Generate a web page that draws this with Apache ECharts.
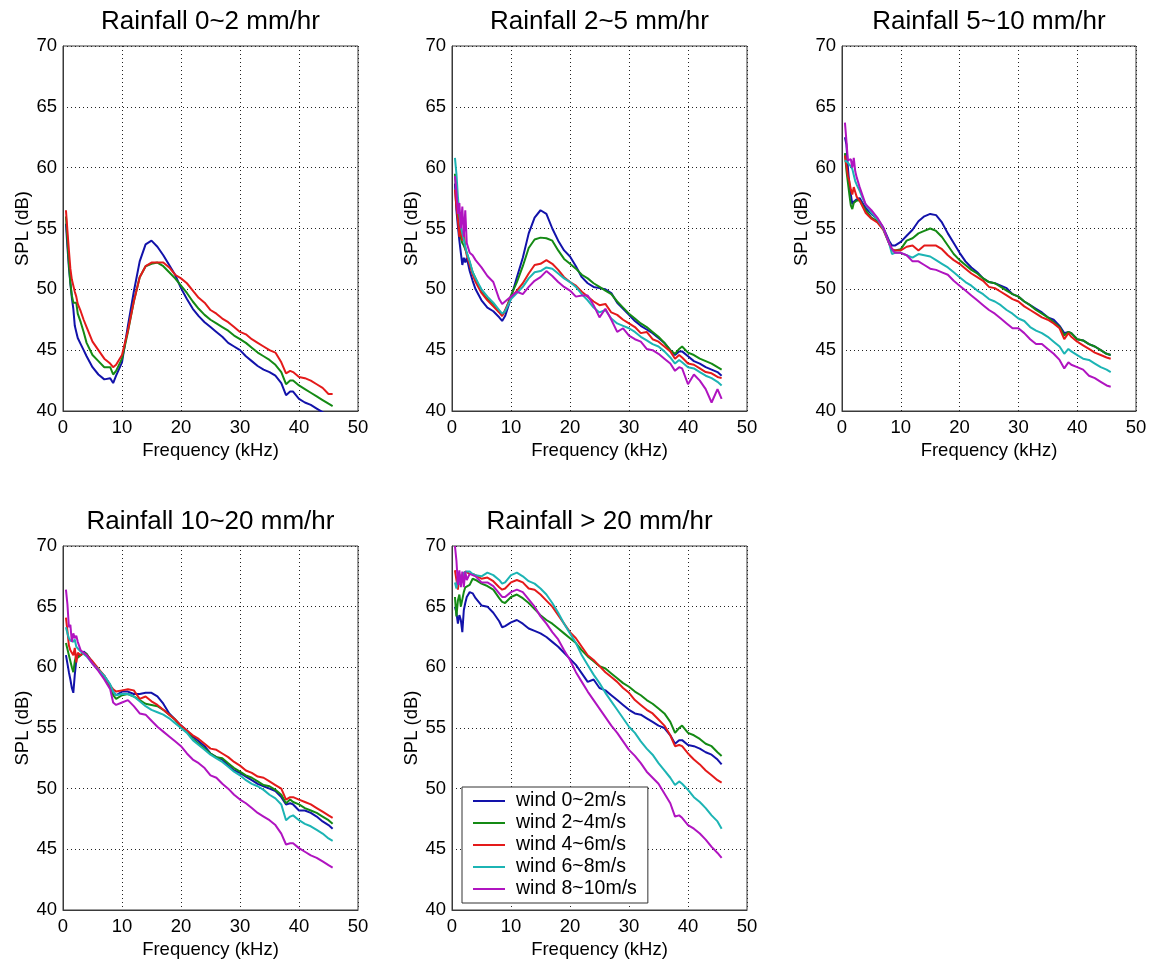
<!DOCTYPE html>
<html>
<head>
<meta charset="utf-8">
<script src="https://cdn.jsdelivr.net/npm/echarts@6/dist/echarts.min.js"></script>
<style>
html,body{margin:0;padding:0;background:#fff;}
#chart{width:1152px;height:964px;}
</style>
</head>
<body>
<div id="chart"></div>
<script>
// Frequency samples (kHz), shared by all curves
const FREQ = [0.5, 0.75, 1, 1.25, 1.5, 1.75, 2, 2.25, 2.5,
  3, 3.5, 4, 5, 6, 7, 8, 8.5, 9,
  10, 11, 12, 13, 14, 15, 16, 17, 18, 19,
  20, 21, 22, 23, 24, 25, 26, 27, 28, 29,
  30, 31, 32, 33, 34, 35, 36, 37, 37.8, 38.5,
  39, 40, 41, 42, 43, 44, 45, 45.7];

const TITLES = ['Rainfall 0~2 mm/hr', 'Rainfall 2~5 mm/hr', 'Rainfall 5~10 mm/hr', 'Rainfall 10~20 mm/hr', 'Rainfall > 20 mm/hr'];
const WIND = ['wind 0~2m/s', 'wind 2~4m/s', 'wind 4~6m/s', 'wind 6~8m/s', 'wind 8~10m/s'];
const X_TICKS = [0, 10, 20, 30, 40, 50];
const Y_TICKS = [40, 45, 50, 55, 60, 65, 70];

// Rainfall 0~2 mm/hr
const r1_w1 = [55.4, 53.5, 51.8, 50.5, 49.3, 48.4, 47.0, 46.5, 46.0,
  45.5, 45.0, 44.5, 43.6, 43.0, 42.6, 42.7, 42.3, 42.9,
  44.0, 47.0, 49.8, 52.3, 53.7, 54.0, 53.5, 52.8, 52.0, 51.2,
  50.1, 49.2, 48.4, 47.8, 47.3, 46.9, 46.5, 46.1, 45.6, 45.3,
  45.0, 44.5, 44.1, 43.7, 43.4, 43.2, 42.9, 42.3, 41.3, 41.6,
  41.6, 41.0, 40.7, 40.5, 40.2, 39.9, 39.6, 39.4];
const r1_w2 = [56.0, 54.0, 52.1, 50.5, 49.5, 48.9, 48.9, 48.9, 48.0,
  47.3, 46.5, 45.6, 44.6, 44.1, 43.6, 43.6, 43.0, 43.3,
  44.3, 46.5, 49.0, 51.0, 51.9, 52.1, 52.2, 51.9, 51.4, 50.9,
  50.3, 49.7, 49.0, 48.4, 47.9, 47.5, 47.2, 46.9, 46.6, 46.2,
  45.9, 45.6, 45.2, 44.8, 44.5, 44.2, 43.8, 43.2, 42.2, 42.5,
  42.5, 42.1, 41.8, 41.5, 41.2, 40.9, 40.6, 40.4];
const r1_w3 = [56.5, 54.8, 53.2, 51.7, 50.8, 50.9, 49.8, 49.4, 48.8,
  48.2, 47.5, 46.9, 45.7, 45.0, 44.3, 43.9, 43.6, 43.8,
  44.6, 46.6, 49.0, 51.0, 51.9, 52.2, 52.2, 52.2, 51.8, 51.2,
  50.9, 50.5, 49.9, 49.3, 48.9, 48.3, 48.0, 47.6, 47.3, 46.9,
  46.5, 46.3, 45.9, 45.6, 45.3, 45.0, 44.8, 44.0, 43.1, 43.3,
  43.2, 42.8, 42.7, 42.5, 42.2, 41.9, 41.4, 41.4];

// Rainfall 2~5 mm/hr
const r2_w1 = [58.7, 56.5, 55.2, 54.0, 53.0, 52.0, 52.6, 52.2, 52.6,
  51.5, 50.7, 50.0, 49.1, 48.5, 48.2, 47.7, 47.4, 47.8,
  49.3, 51.0, 52.6, 54.6, 55.9, 56.5, 56.2, 55.0, 54.0, 53.2,
  52.7, 51.9, 51.0, 50.5, 50.2, 50.1, 50.0, 49.7, 48.9, 48.4,
  47.9, 47.4, 47.0, 46.7, 46.4, 46.0, 45.6, 45.0, 44.6, 44.9,
  44.9, 44.5, 44.1, 43.9, 43.6, 43.4, 43.2, 42.9];
const r2_w2 = [59.5, 57.8, 56.2, 55.0, 54.2, 53.8, 53.6, 53.5, 53.0,
  52.2, 51.4, 50.9, 49.8, 49.2, 48.8, 48.2, 47.9, 48.2,
  49.5, 50.6, 51.9, 53.4, 54.1, 54.25, 54.2, 54.0, 53.2, 52.5,
  52.1, 51.7, 51.2, 50.9, 50.5, 50.2, 49.9, 49.6, 49.0, 48.5,
  48.0, 47.6, 47.2, 46.9, 46.5, 46.1, 45.6, 45.0, 44.7, 45.1,
  45.3, 44.8, 44.6, 44.3, 44.1, 43.9, 43.6, 43.4];
const r2_w3 = [58.2, 56.8, 55.7, 54.3, 55.2, 54.0, 54.8, 53.4, 52.8,
  52.0, 51.2, 50.6, 49.7, 49.1, 48.6, 48.1, 47.8, 48.3,
  49.3, 49.9, 50.5, 51.3, 52.0, 52.1, 52.4, 52.1, 51.6, 51.0,
  50.6, 50.3, 49.8, 49.4, 49.0, 48.7, 48.8, 48.1, 47.9, 47.5,
  47.2, 46.9, 46.4, 46.5, 45.9, 45.7, 45.3, 44.9, 44.3, 44.6,
  44.4, 43.9, 43.8, 43.5, 43.2, 43.1, 42.8, 42.7];
const r2_w4 = [60.8, 59.5, 57.6, 56.2, 55.2, 54.6, 54.1, 53.5, 53.0,
  52.3, 51.4, 50.9, 50.0, 49.4, 48.9, 48.3, 48.0, 48.2,
  49.2, 49.7, 50.2, 50.9, 51.4, 51.5, 51.8, 51.7, 51.3, 50.9,
  50.6, 50.2, 49.6, 49.1, 48.5, 48.1, 48.3, 47.6, 47.2, 47.0,
  46.8, 46.5, 46.1, 45.8, 45.5, 45.3, 44.9, 44.4, 43.9, 44.2,
  44.0, 43.6, 43.5, 43.2, 42.9, 42.7, 42.4, 42.1];
const r2_w5 = [59.3, 58.0, 56.2, 57.1, 55.0, 56.8, 54.3, 56.5, 53.8,
  53.0, 52.8, 52.4, 51.8, 51.1, 50.6, 49.2, 48.8, 49.0,
  49.4, 49.8, 49.6, 50.2, 50.7, 51.0, 51.5, 51.1, 50.6, 50.2,
  49.9, 49.4, 49.5, 49.5, 48.7, 47.7, 48.4, 47.5, 46.5, 46.8,
  46.2, 45.9, 45.7, 45.1, 45.0, 44.7, 44.3, 43.9, 43.3, 43.6,
  43.5, 42.2, 43.0, 42.5, 41.8, 40.7, 41.8, 41.0];

// Rainfall 5~10 mm/hr
const r3_w1 = [62.5, 61.9, 60.0, 58.6, 57.8, 57.0, 57.2, 57.3, 57.4,
  57.5, 57.1, 56.7, 56.2, 55.8, 55.1, 54.0, 53.6, 53.6,
  53.9, 54.4, 54.9, 55.6, 56.0, 56.2, 56.1, 55.5, 54.6, 53.8,
  53.0, 52.3, 51.8, 51.4, 50.9, 50.6, 50.5, 50.3, 50.1, 49.6,
  49.4, 49.0, 48.7, 48.4, 48.1, 47.7, 47.5, 47.0, 46.4, 46.5,
  46.4, 45.9, 45.8, 45.5, 45.3, 45.0, 44.7, 44.6];
const r3_w2 = [61.2, 59.8, 58.8, 57.8, 56.9, 56.6, 57.1, 57.2, 57.3,
  57.3, 56.9, 56.5, 55.9, 55.6, 55.0, 53.8, 53.2, 53.2,
  53.3, 54.0, 54.2, 54.6, 54.8, 55.0, 54.8, 54.3, 53.6, 52.9,
  52.4, 52.0, 51.6, 51.3, 50.9, 50.6, 50.5, 50.2, 49.9, 49.6,
  49.4, 49.0, 48.7, 48.3, 48.0, 47.7, 47.3, 46.9, 46.2, 46.5,
  46.4, 45.9, 45.8, 45.5, 45.3, 45.0, 44.7, 44.6];
const r3_w3 = [61.0, 60.2, 59.3, 58.9, 58.2, 57.8, 58.4, 58.0, 57.6,
  57.3, 56.8, 56.3, 55.8, 55.5, 54.9, 53.8, 53.3, 53.2,
  53.2, 53.5, 53.6, 53.2, 53.6, 53.6, 53.6, 53.3, 52.8, 52.4,
  52.1, 51.7, 51.3, 51.0, 50.7, 50.2, 50.1, 49.8, 49.5, 49.2,
  49.0, 48.6, 48.3, 48.0, 47.7, 47.5, 47.2, 46.8, 45.9, 46.4,
  46.1, 45.7, 45.4, 45.1, 44.8, 44.6, 44.4, 44.3];
const r3_w4 = [60.6, 60.5, 60.4, 60.3, 60.1, 59.9, 59.4, 58.9, 58.6,
  58.1, 57.5, 57.0, 56.3, 55.8, 55.0, 53.8, 52.9, 53.0,
  53.0, 52.8, 52.6, 52.9, 52.8, 52.7, 52.4, 52.1, 51.8, 51.4,
  51.0, 50.6, 50.3, 49.9, 49.6, 49.2, 49.0, 48.7, 48.3, 48.0,
  47.6, 47.4, 46.9, 46.6, 46.4, 46.1, 45.7, 45.3, 44.7, 45.1,
  44.9, 44.6, 44.3, 44.2, 43.9, 43.6, 43.4, 43.2];
const r3_w5 = [63.7, 62.2, 60.6, 60.7, 60.7, 60.0, 60.8, 59.7, 59.2,
  58.4, 57.7, 57.0, 56.5, 55.9, 55.1, 53.8, 53.3, 53.0,
  53.0, 52.8, 52.3, 52.3, 52.0, 51.7, 51.6, 51.4, 51.2, 50.7,
  50.3, 49.9, 49.5, 49.1, 48.7, 48.3, 48.0, 47.6, 47.2, 46.8,
  46.8, 46.4, 45.9, 45.5, 45.5, 45.1, 44.7, 44.2, 43.5, 44.0,
  43.8, 43.6, 43.4, 42.9, 42.7, 42.4, 42.1, 42.0];

// Rainfall 10~20 mm/hr
const r4_w1 = [61.0, 60.3, 59.6, 59.0, 58.3, 57.9, 59.4, 60.6, 61.0,
  61.0, 61.3, 61.1, 60.4, 59.8, 59.3, 58.5, 58.0, 57.7,
  58.0, 58.0, 57.8, 57.8, 57.9, 57.9, 57.6, 57.0, 56.2, 55.7,
  55.2, 54.8, 54.3, 53.9, 53.5, 52.9, 52.6, 52.4, 51.9, 51.5,
  51.3, 51.0, 50.7, 50.4, 50.2, 50.0, 49.8, 49.3, 48.7, 48.8,
  48.7, 48.2, 48.2, 48.0, 47.7, 47.3, 47.0, 46.7];
const r4_w2 = [62.0, 61.5, 61.0, 60.5, 60.0, 59.6, 60.5, 61.0, 60.8,
  61.0, 61.2, 61.1, 60.4, 59.8, 59.2, 58.4, 57.7, 57.4,
  57.7, 57.8, 57.6, 57.3, 57.0, 56.9, 56.8, 56.5, 56.1, 55.7,
  55.1, 54.7, 54.1, 53.7, 53.3, 52.9, 52.6, 52.5, 52.1, 51.7,
  51.4, 51.1, 50.9, 50.6, 50.3, 50.2, 49.9, 49.5, 48.8, 49.1,
  48.9, 48.7, 48.4, 48.2, 48.0, 47.7, 47.4, 47.1];
const r4_w3 = [64.1, 63.0, 61.8, 61.4, 61.2, 61.0, 61.6, 60.4, 61.2,
  61.0, 61.2, 61.0, 60.5, 59.9, 59.3, 58.5, 58.2, 58.0,
  58.1, 58.2, 58.1, 57.4, 57.6, 57.2, 56.9, 56.5, 56.1, 55.7,
  55.2, 54.8, 54.4, 54.1, 53.7, 53.3, 53.2, 52.9, 52.6, 52.2,
  51.9, 51.5, 51.3, 51.0, 50.9, 50.6, 50.3, 50.0, 49.1, 49.3,
  49.3, 49.1, 48.9, 48.7, 48.4, 48.1, 47.8, 47.6];
const r4_w4 = [63.3, 62.8, 62.4, 62.2, 62.1, 62.1, 62.3, 61.7, 61.6,
  61.3, 61.1, 60.9, 60.3, 59.8, 59.3, 58.6, 58.0, 57.7,
  57.8, 57.8, 57.6, 57.2, 56.8, 56.5, 56.3, 56.1, 55.8, 55.4,
  55.0, 54.6, 54.0, 53.6, 53.2, 52.8, 52.5, 52.2, 51.8, 51.4,
  51.1, 50.7, 50.4, 50.2, 49.9, 49.5, 49.2, 48.7, 47.4, 47.7,
  47.8, 47.4, 47.1, 46.9, 46.6, 46.3, 45.9, 45.7];
const r4_w5 = [66.4, 65.2, 63.3, 63.5, 62.1, 62.8, 62.4, 62.6, 62.1,
  61.4, 61.2, 61.0, 60.3, 59.7, 59.0, 58.2, 57.1, 56.9,
  57.1, 57.3, 56.8, 56.2, 56.1, 55.6, 55.1, 54.7, 54.3, 53.9,
  53.5, 52.9, 52.4, 52.1, 51.7, 51.1, 50.9, 50.4, 50.0, 49.5,
  49.1, 48.8, 48.4, 48.0, 47.7, 47.4, 47.0, 46.3, 45.4, 45.5,
  45.5, 45.1, 44.8, 44.5, 44.3, 44.0, 43.7, 43.5];

// Rainfall > 20 mm/hr
const r5_w1 = [65.0, 64.5, 63.6, 64.3, 63.9, 62.9, 64.7, 65.3, 65.8,
  66.2, 66.1, 65.7, 65.1, 65.0, 64.5, 63.8, 63.3, 63.4,
  63.7, 63.9, 63.6, 63.2, 63.0, 62.8, 62.5, 62.1, 61.7, 61.2,
  60.7, 60.2, 59.5, 58.8, 59.0, 58.3, 58.1, 57.7, 57.3, 56.9,
  56.5, 56.2, 56.1, 55.8, 55.5, 55.2, 55.0, 54.4, 53.7, 54.0,
  54.0, 53.6, 53.5, 53.3, 53.0, 52.8, 52.4, 52.0];
const r5_w2 = [65.8, 64.2, 65.5, 66.0, 65.0, 65.0, 66.2, 66.6, 66.7,
  66.8, 67.3, 67.2, 66.9, 66.7, 66.4, 65.7, 65.4, 65.3,
  65.8, 66.0, 65.7, 65.3, 64.8, 64.3, 63.9, 63.6, 63.2, 62.8,
  62.4, 62.0, 61.4, 60.9, 60.5, 60.1, 59.9, 59.5, 59.1, 58.7,
  58.4, 58.0, 57.7, 57.3, 57.0, 56.6, 56.2, 55.5, 54.6, 55.0,
  55.2, 54.6, 54.4, 54.1, 53.7, 53.5, 53.0, 52.7];
const r5_w3 = [68.0, 67.2, 66.4, 67.7, 66.9, 67.2, 67.5, 67.9, 67.8,
  67.7, 67.7, 67.6, 67.3, 67.4, 67.1, 66.6, 66.4, 66.5,
  67.0, 67.2, 67.0, 66.5, 66.4, 66.0, 65.5, 65.0, 64.3, 63.6,
  62.9, 62.4, 61.7, 61.0, 60.6, 60.1, 59.6, 59.2, 58.8, 58.3,
  57.9, 57.3, 56.9, 56.5, 56.2, 55.7, 55.2, 54.4, 53.5, 53.6,
  53.5, 52.9, 52.4, 52.0, 51.5, 51.1, 50.7, 50.5];
const r5_w4 = [67.0, 66.5, 67.3, 66.8, 67.6, 67.2, 67.8, 67.9, 67.9,
  67.9, 67.7, 67.6, 67.5, 67.8, 67.6, 67.2, 66.9, 67.0,
  67.6, 67.8, 67.5, 67.1, 66.9, 66.5, 66.0, 65.3, 64.5, 63.6,
  62.8, 62.0, 61.0, 60.2, 59.4, 58.7, 57.9, 57.2, 56.5, 55.8,
  55.1, 54.6, 53.9, 53.3, 52.8, 52.1, 51.5, 50.9, 50.3, 50.6,
  50.4, 49.9, 49.3, 48.9, 48.4, 47.8, 47.3, 46.7];
const r5_w5 = [70.0, 68.8, 66.8, 68.0, 66.6, 67.9, 66.6, 67.9, 67.2,
  67.7, 67.6, 67.5, 67.0, 67.0, 66.7, 66.1, 65.8, 65.8,
  66.2, 66.4, 66.2, 65.6, 65.0, 64.2, 63.6, 62.9, 62.3, 61.4,
  60.6, 59.6, 58.8, 58.0, 57.3, 56.6, 55.9, 55.2, 54.6, 53.9,
  53.2, 52.7, 52.1, 51.4, 50.9, 50.4, 49.6, 48.8, 47.7, 47.8,
  47.6, 47.0, 46.7, 46.3, 45.8, 45.2, 44.7, 44.3];

const PANELS = [
  [r1_w1, r1_w2, r1_w3],
  [r2_w1, r2_w2, r2_w3, r2_w4, r2_w5],
  [r3_w1, r3_w2, r3_w3, r3_w4, r3_w5],
  [r4_w1, r4_w2, r4_w3, r4_w4, r4_w5],
  [r5_w1, r5_w2, r5_w3, r5_w4, r5_w5]
];

const COLORS = ['#1212aa', '#148a14', '#e41a1a', '#1cb4b4', '#b014c0'];
const FONT = '"Liberation Sans", Arial, Helvetica, sans-serif';

const GRIDS = [
  {left: 63, top: 46, width: 295, height: 365},
  {left: 452, top: 46, width: 295, height: 365},
  {left: 842, top: 46, width: 294, height: 365},
  {left: 63, top: 546, width: 295, height: 364},
  {left: 452, top: 546, width: 295, height: 364}
];
const TITLE_Y = [22, 22, 22, 522, 522];

const chart = echarts.init(document.getElementById('chart'), null, {renderer: 'canvas'});

const grid = GRIDS.map(g => ({
  left: g.left, top: g.top, width: g.width, height: g.height,
  show: true, borderColor: '#3a3a3a', borderWidth: 1, backgroundColor: '#fff'
}));

const splitLine = {show: true, lineStyle: {color: '#222', width: 1, type: [1, 3]}};

const xAxis = GRIDS.map((g, i) => ({
  type: 'value', gridIndex: i, min: X_TICKS[0], max: X_TICKS[X_TICKS.length - 1], interval: 10,
  name: 'Frequency (kHz)', nameLocation: 'middle', nameGap: 30,
  nameTextStyle: {fontSize: 18.5, color: '#000', fontFamily: FONT},
  axisLine: {show: true, lineStyle: {color: '#3a3a3a', width: 1}},
  axisTick: {show: false},
  axisLabel: {fontSize: 18.5, color: '#000', fontFamily: FONT, margin: 7},
  splitLine: splitLine
}));

const yAxis = GRIDS.map((g, i) => ({
  type: 'value', gridIndex: i, min: Y_TICKS[0], max: Y_TICKS[Y_TICKS.length - 1], interval: 5,
  name: 'SPL (dB)', nameLocation: 'middle', nameGap: 30,
  nameTextStyle: {fontSize: 18.5, color: '#000', fontFamily: FONT},
  axisLine: {show: true, lineStyle: {color: '#3a3a3a', width: 1}},
  axisTick: {show: false},
  axisLabel: {fontSize: 18.5, color: '#000', fontFamily: FONT, margin: 6},
  splitLine: splitLine
}));

const title = TITLES.map((t, i) => ({
  text: t,
  left: GRIDS[i].left + GRIDS[i].width / 2,
  top: TITLE_Y[i] - 13,
  textAlign: 'center',
  padding: 0,
  textStyle: {fontSize: 26, fontWeight: 'normal', color: '#000', fontFamily: FONT, lineHeight: 26}
}));

const series = [];
PANELS.forEach((curves, p) => {
  curves.forEach((vals, k) => {
    series.push({
      type: 'line', name: WIND[k], xAxisIndex: p, yAxisIndex: p,
      data: FREQ.map((f, j) => [f, vals[j]]),
      showSymbol: false, symbol: 'none', clip: true,
      lineStyle: {color: COLORS[k], width: 2},
      itemStyle: {color: COLORS[k]},
      emphasis: {disabled: true},
      z: 2 + k
    });
  });
});

chart.setOption({
  animation: false,
  backgroundColor: '#fff',
  title: title,
  grid: grid,
  xAxis: xAxis,
  yAxis: yAxis,
  legend: {
    data: WIND, orient: 'vertical', left: 462, top: 787,
    backgroundColor: '#fff', borderColor: '#333', borderWidth: 1,
    padding: [3, 11, 3, 11], itemGap: 0, itemWidth: 32, itemHeight: 2,
    icon: 'rect', selectedMode: false,
    textStyle: {fontSize: 19.5, color: '#000', fontFamily: FONT, lineHeight: 22, padding: [0, 0, 0, 6]},
    z: 10
  },
  series: series
});
</script>
</body>
</html>
